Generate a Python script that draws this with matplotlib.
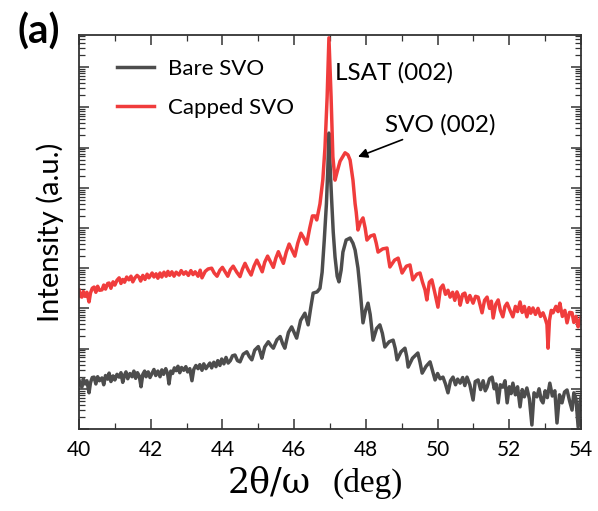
import numpy as np
import matplotlib
matplotlib.use("Agg")
import matplotlib.pyplot as plt
from matplotlib.ticker import MultipleLocator, LogLocator, NullFormatter

# %% data: 2theta (deg) and log10 of intensity (a.u.)
bare_2theta = [
    40.00, 40.04, 40.08, 40.12, 40.17, 40.22, 40.28, 40.32, 40.37, 40.42, 40.47, 40.52, 40.57, 40.64,
    40.69, 40.74, 40.80, 40.84, 40.89, 40.95, 41.00, 41.06, 41.12, 41.17, 41.22, 41.27, 41.31, 41.36,
    41.42, 41.48, 41.53, 41.58, 41.63, 41.68, 41.73, 41.78, 41.83, 41.87, 41.93, 41.98, 42.04, 42.09,
    42.14, 42.20, 42.26, 42.31, 42.36, 42.42, 42.47, 42.51, 42.56, 42.61, 42.66, 42.71, 42.76, 42.81,
    42.86, 42.92, 42.98, 43.03, 43.09, 43.15, 43.20, 43.26, 43.32, 43.37, 43.43, 43.48, 43.54, 43.60,
    43.65, 43.70, 43.76, 43.82, 43.87, 43.93, 43.98, 44.04, 44.10, 44.16, 44.22, 44.28, 44.35, 44.42,
    44.49, 44.58, 44.68, 44.75, 44.82, 44.90, 45.00, 45.05, 45.10, 45.18, 45.28, 45.35, 45.42, 45.52,
    45.61, 45.68, 45.74, 45.84, 45.93, 46.00, 46.07, 46.18, 46.30, 46.35, 46.39, 46.46, 46.53, 46.64,
    46.72, 46.78, 46.84, 46.90, 46.94, 46.97, 47.00, 47.04, 47.09, 47.14, 47.20, 47.25, 47.31, 47.36,
    47.45, 47.56, 47.64, 47.70, 47.78, 47.84, 47.92, 47.99, 48.06, 48.12, 48.20, 48.30, 48.39, 48.46,
    48.53, 48.65, 48.76, 48.82, 48.87, 48.98, 49.09, 49.14, 49.18, 49.30, 49.45, 49.51, 49.57, 49.68,
    49.79, 49.86, 49.93, 50.00, 50.07, 50.15, 50.22, 50.29, 50.36, 50.43, 50.50, 50.56, 50.63, 50.70,
    50.76, 50.82, 50.90, 50.99, 51.05, 51.13, 51.20, 51.27, 51.33, 51.38, 51.45, 51.52, 51.58, 51.63,
    51.69, 51.75, 51.82, 51.88, 51.94, 52.00, 52.05, 52.10, 52.17, 52.23, 52.30, 52.36, 52.42, 52.49,
    52.56, 52.63, 52.69, 52.77, 52.83, 52.89, 52.94, 53.00, 53.06, 53.13, 53.20, 53.27, 53.33, 53.40,
    53.47, 53.54, 53.61, 53.68, 53.75, 53.80, 53.86, 53.92, 53.97, 54.00]
bare_logI = [
    1.22, 1.10, 1.04, 1.25, 1.12, 1.20, 0.90, 1.15, 1.28, 1.29, 1.12, 1.30, 1.20, 1.27,
    1.10, 1.33, 1.24, 1.39, 1.18, 1.32, 1.22, 1.36, 1.29, 1.40, 1.16, 1.34, 1.42, 1.25,
    1.38, 1.30, 1.44, 1.26, 1.40, 1.32, 1.05, 1.36, 1.44, 1.30, 1.42, 1.28, 1.39, 1.48,
    1.33, 1.44, 1.30, 1.47, 1.36, 1.50, 1.38, 1.12, 1.44, 1.38, 1.52, 1.45, 1.56, 1.40,
    1.53, 1.46, 1.55, 1.42, 1.50, 1.20, 1.48, 1.58, 1.50, 1.60, 1.46, 1.62, 1.50, 1.58,
    1.64, 1.52, 1.66, 1.55, 1.70, 1.58, 1.74, 1.62, 1.78, 1.64, 1.70, 1.82, 1.84, 1.70,
    1.67, 1.86, 1.92, 1.80, 1.72, 1.96, 2.05, 1.92, 1.76, 2.04, 2.17, 2.08, 2.01, 2.22,
    2.30, 2.12, 2.01, 2.40, 2.54, 2.40, 2.26, 2.70, 2.88, 2.72, 2.59, 3.00, 3.38, 3.41,
    3.50, 3.90, 4.70, 5.60, 6.50, 7.36, 6.60, 5.80, 4.90, 4.28, 3.80, 3.66, 3.95, 4.40,
    4.70, 4.75, 4.62, 4.45, 4.00, 3.46, 2.64, 2.95, 3.13, 2.85, 2.21, 2.50, 2.59, 2.38,
    2.04, 2.17, 2.21, 2.00, 1.72, 1.92, 2.01, 1.80, 1.54, 1.76, 1.89, 1.66, 1.39, 1.56,
    1.67, 1.45, 1.22, 1.38, 1.25, 1.29, 1.12, 0.90, 1.20, 1.29, 1.10, 1.24, 1.14, 1.28,
    1.08, 1.29, 1.10, 0.72, 1.18, 1.22, 0.98, 1.20, 0.95, 1.04, 1.25, 1.29, 1.00, 1.12,
    0.65, 1.10, 1.04, 1.20, 0.65, 1.05, 0.88, 1.14, 0.85, 1.05, 0.55, 0.98, 0.80, 1.02,
    0.75, 0.10, 0.90, 0.80, 1.00, 0.72, 0.65, 0.95, 0.78, 1.14, 0.82, 0.95, 0.15, 0.85,
    0.65, 0.92, 0.97, 0.70, 0.47, 0.90, 0.75, 0.05, 0.65, 0.80]

capped_2theta = [
    40.00, 40.04, 40.08, 40.12, 40.17, 40.22, 40.28, 40.32, 40.37, 40.42, 40.47, 40.52, 40.57, 40.64,
    40.69, 40.74, 40.80, 40.84, 40.89, 40.95, 41.00, 41.06, 41.12, 41.17, 41.22, 41.27, 41.33, 41.39,
    41.45, 41.50, 41.56, 41.62, 41.67, 41.72, 41.78, 41.84, 41.90, 41.95, 42.04, 42.09, 42.15, 42.20,
    42.26, 42.31, 42.37, 42.43, 42.48, 42.53, 42.59, 42.65, 42.71, 42.79, 42.85, 42.92, 42.98, 43.05,
    43.12, 43.18, 43.24, 43.32, 43.38, 43.43, 43.52, 43.60, 43.70, 43.77, 43.85, 43.93, 44.00, 44.08,
    44.15, 44.22, 44.30, 44.40, 44.49, 44.56, 44.63, 44.72, 44.80, 44.88, 44.96, 45.04, 45.11, 45.18,
    45.26, 45.34, 45.42, 45.49, 45.56, 45.63, 45.70, 45.78, 45.86, 45.94, 46.02, 46.10, 46.19, 46.27,
    46.35, 46.43, 46.51, 46.58, 46.63, 46.72, 46.80, 46.86, 46.92, 46.97, 47.03, 47.08, 47.14, 47.20,
    47.28, 47.42, 47.50, 47.56, 47.64, 47.70, 47.73, 47.78, 47.85, 47.92, 47.98, 48.03, 48.13, 48.23,
    48.29, 48.34, 48.47, 48.59, 48.63, 48.67, 48.80, 48.90, 48.96, 49.01, 49.13, 49.23, 49.27, 49.31,
    49.42, 49.51, 49.58, 49.65, 49.70, 49.77, 49.84, 49.92, 50.01, 50.08, 50.15, 50.22, 50.29, 50.35,
    50.42, 50.48, 50.54, 50.59, 50.63, 50.70, 50.76, 50.83, 50.90, 50.99, 51.06, 51.13, 51.18, 51.24,
    51.31, 51.38, 51.45, 51.50, 51.55, 51.62, 51.69, 51.75, 51.82, 51.88, 51.94, 52.02, 52.10, 52.17,
    52.23, 52.30, 52.36, 52.42, 52.49, 52.55, 52.60, 52.66, 52.73, 52.80, 52.87, 52.94, 53.00, 53.05,
    53.08, 53.12, 53.17, 53.22, 53.30, 53.36, 53.41, 53.48, 53.55, 53.61, 53.68, 53.75, 53.80, 53.86,
    53.92, 53.97, 54.00]
capped_logI = [
    3.46, 3.30, 3.28, 3.42, 3.30, 3.40, 3.16, 3.38, 3.50, 3.53, 3.40, 3.55, 3.45, 3.46,
    3.58, 3.48, 3.62, 3.63, 3.50, 3.66, 3.58, 3.70, 3.76, 3.62, 3.72, 3.65, 3.78, 3.71,
    3.80, 3.66, 3.76, 3.82, 3.78, 3.68, 3.82, 3.72, 3.85, 3.76, 3.88, 3.78, 3.86, 3.75,
    3.88, 3.78, 3.90, 3.80, 3.92, 3.82, 3.91, 3.80, 3.90, 3.83, 3.94, 3.85, 3.91, 3.82,
    3.94, 3.84, 3.91, 3.80, 3.95, 3.76, 3.92, 3.98, 4.00, 3.88, 3.80, 3.95, 4.02, 3.90,
    3.80, 3.96, 4.05, 3.90, 3.79, 3.98, 4.12, 3.95, 3.83, 4.05, 4.20, 4.05, 3.91, 4.15,
    4.30, 4.16, 4.02, 4.25, 4.41, 4.26, 4.12, 4.40, 4.60, 4.45, 4.30, 4.62, 4.87, 4.75,
    4.60, 4.98, 5.30, 5.30, 5.20, 5.60, 6.20, 7.00, 8.26, 9.73, 8.26, 6.77, 6.19, 6.40,
    6.66, 6.87, 6.82, 6.69, 6.19, 5.60, 5.40, 4.95, 5.15, 5.25, 5.00, 4.70, 4.80, 4.83,
    4.62, 4.40, 4.48, 4.50, 4.25, 4.03, 4.20, 4.25, 4.05, 3.88, 4.05, 4.08, 3.90, 3.71,
    3.85, 3.88, 3.65, 3.46, 3.21, 3.65, 3.71, 3.40, 3.03, 3.50, 3.58, 3.35, 3.45, 3.28,
    3.40, 3.20, 3.41, 3.30, 3.08, 3.35, 3.38, 3.15, 3.32, 3.13, 3.30, 3.28, 3.10, 2.89,
    3.20, 3.28, 3.00, 3.18, 2.76, 3.10, 3.21, 2.95, 2.79, 3.05, 3.13, 2.95, 2.79, 3.05,
    2.92, 3.16, 2.90, 3.05, 2.79, 3.02, 2.88, 3.01, 2.85, 3.00, 2.80, 2.89, 2.75, 2.60,
    2.01, 2.70, 2.95, 2.89, 3.05, 2.92, 3.13, 2.80, 2.95, 2.64, 2.90, 2.89, 2.65, 2.80,
    2.54, 2.71, 2.78]

series_names = ["Bare SVO", "Capped SVO"]
series_colors = ["#4d4d4d", "#f03c3c"]

# %% plot
plt.rcParams['font.family'] = ['Lato', 'DejaVu Sans']

fig = plt.figure(figsize=(5.98, 5.11), dpi=100)
ax = fig.add_axes([0.1321, 0.1605, 0.8395, 0.771])

ax.plot(bare_2theta, 10 ** np.array(bare_logI), color=series_colors[0], lw=2.5,
        solid_joinstyle='round', label=series_names[0])
ax.plot(capped_2theta, 10 ** np.array(capped_logI), color=series_colors[1], lw=2.5,
        solid_joinstyle='round', label=series_names[1])

ax.set_yscale('log')
ax.set_xlim(40, 54)
ax.set_ylim(1, 10 ** 9.8)

ax.xaxis.set_major_locator(MultipleLocator(2))
ax.xaxis.set_minor_locator(MultipleLocator(1))
ax.yaxis.set_major_locator(LogLocator(base=10, numticks=20))
ax.yaxis.set_minor_locator(LogLocator(base=10, subs=np.arange(2, 10), numticks=20))
ax.yaxis.set_major_formatter(NullFormatter())
ax.yaxis.set_minor_formatter(NullFormatter())

ax.tick_params(which='both', direction='in', top=True, right=True, color='#333333')
ax.tick_params(which='major', length=7, width=1.1, labelsize=15, pad=8)
ax.tick_params(which='minor', length=4, width=0.9)
for s in ax.spines.values():
    s.set_linewidth(1.3)
    s.set_color('#333333')

ax.set_ylabel('Intensity (a.u.)', fontsize=21, labelpad=3)

# x label: the greek part comes out wider in the original, so two pieces
fig.text(0.381, 0.037, '2θ/ω', family='DejaVu Serif', fontsize=25, va='baseline', ha='left')
fig.text(0.556, 0.037, '(deg)', family='Liberation Serif', fontsize=24, va='baseline', ha='left')

ax.legend(loc='upper left', bbox_to_anchor=(0.035, 0.99), frameon=False, fontsize=16,
          handlelength=1.7, handletextpad=0.6, labelspacing=0.85)

ax.text(47.14, 10 ** 8.86, 'LSAT (002)', fontsize=17.5, va='center', ha='left')
ax.annotate('SVO (002)', xy=(47.78, 10 ** 6.77), xytext=(48.53, 10 ** 7.56),
            fontsize=17.5, va='center', ha='left',
            arrowprops=dict(arrowstyle='-|>', color='black', lw=1.2, shrinkA=2, shrinkB=0,
                            mutation_scale=14))

fig.text(0.030, 0.914, '(a)', fontsize=29, fontweight='bold', va='baseline')

fig.savefig('out.png', dpi=100)
